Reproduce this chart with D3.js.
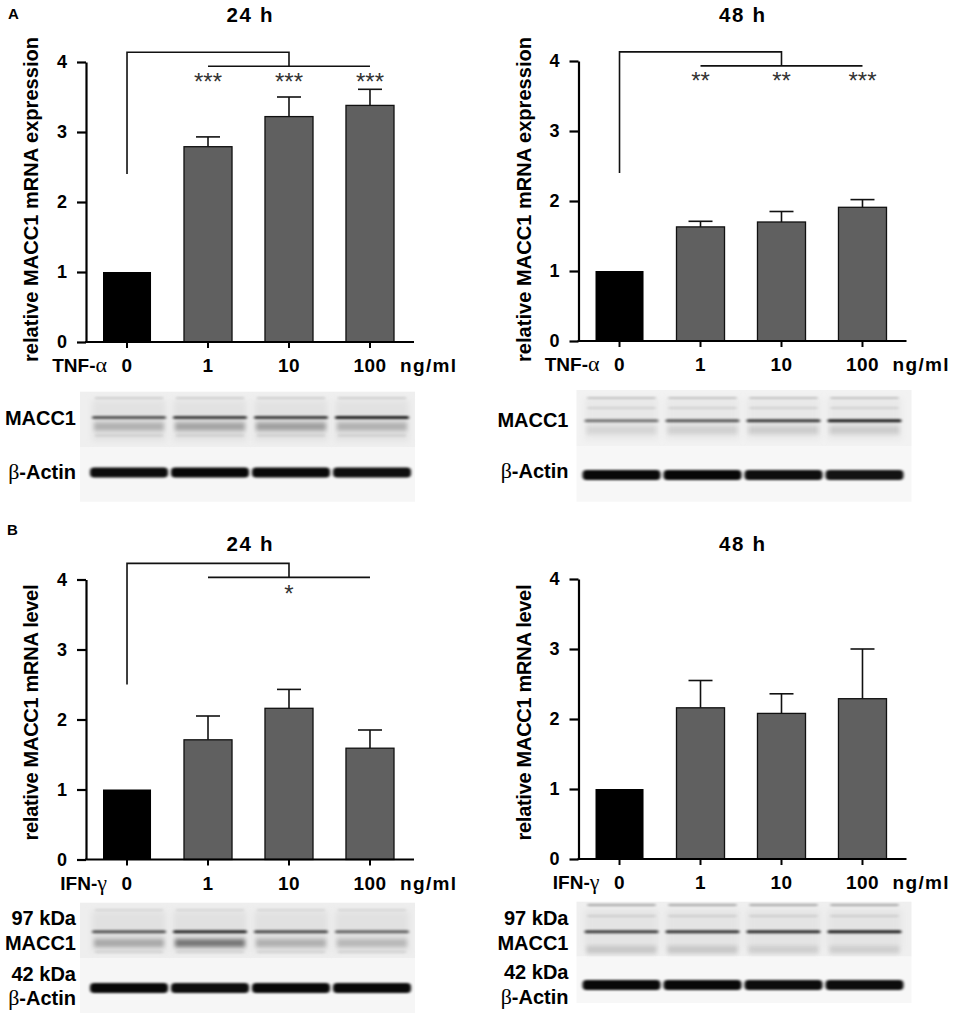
<!DOCTYPE html>
<html>
<head>
<meta charset="utf-8">
<script src="https://cdn.jsdelivr.net/npm/d3@7"></script>
<style>
  body { margin: 0; background: #fff; }
  text { font-family: "Liberation Sans", Arial, sans-serif; }
</style>
</head>
<body>
<div id="fig"></div>
<script>
// doses (ng/ml) and y ticks
var doses = ["0", "1", "10", "100"];
var yTicks = [0, 1, 2, 3, 4];

// relative MACC1 mRNA, mean and error
var tnf24Mean = [1.00, 2.79, 3.22, 3.38];
var tnf24Err  = [0, 0.14, 0.28, 0.23];
var tnf48Mean = [1.00, 1.63, 1.70, 1.91];
var tnf48Err  = [0, 0.08, 0.15, 0.11];
var ifn24Mean = [1.00, 1.71, 2.16, 1.59];
var ifn24Err  = [0, 0.34, 0.27, 0.26];
var ifn48Mean = [1.00, 2.16, 2.08, 2.29];
var ifn48Err  = [0, 0.39, 0.28, 0.71];

// significance marks for doses 1, 10, 100
var tnf24Stars = ["***", "***", "***"];
var tnf48Stars = ["**", "**", "***"];
var ifn24Stars = ["", "*", ""];
var ifn48Stars = ["", "", ""];

// band darkness per lane (0..1), estimated from the blots
var tnf24Macc = [0.62, 0.72, 0.72, 0.85];
var tnf24Low  = [0.22, 0.28, 0.30, 0.22];
var tnf24Actin = [0.95, 0.97, 0.96, 0.94];
var tnf48Macc = [0.50, 0.62, 0.75, 0.88];
var tnf48Low  = [0.08, 0.10, 0.12, 0.12];
var tnf48Actin = [0.96, 0.97, 0.94, 0.92];
var ifn24Macc = [0.62, 0.82, 0.66, 0.55];
var ifn24Low  = [0.25, 0.48, 0.22, 0.18];
var ifn24Actin = [0.96, 0.94, 0.96, 0.96];
var ifn48Macc = [0.72, 0.76, 0.80, 0.86];
var ifn48Low  = [0.14, 0.14, 0.11, 0.11];
var ifn48Actin = [0.96, 0.96, 0.95, 0.95];

var W = 957, H = 1018;

var svg = d3.select("#fig").append("svg")
  .attr("width", W)
  .attr("height", H);

var defs = svg.append("defs");
defs.append("filter").attr("id", "blur")
  .attr("x", "-20%").attr("y", "-400%").attr("width", "140%").attr("height", "900%")
  .append("feGaussianBlur").attr("stdDeviation", "1.4 1.1");
defs.append("filter").attr("id", "smear")
  .attr("x", "-20%").attr("y", "-200%").attr("width", "140%").attr("height", "500%")
  .append("feGaussianBlur").attr("stdDeviation", "2 2.2");
defs.append("filter").attr("id", "soft")
  .attr("x", "-20%").attr("y", "-50%").attr("width", "140%").attr("height", "200%")
  .append("feGaussianBlur").attr("stdDeviation", "3");

var panels = [
  {ox: 0, y0: 342, title: "24 h", titleY: 21.5, ylab: "relative MACC1 mRNA expression", ylabY: 199.5, ylabLen: 325,
   agent: "TNF-", greek: "α", mean: tnf24Mean, err: tnf24Err, stars: tnf24Stars, starLv: 3.8,
   br: {stem: 2.4, top: 4.14, drop: 3.94}},
  {ox: 492.5, y0: 341, title: "48 h", titleY: 21.5, ylab: "relative MACC1 mRNA expression", ylabY: 199.5, ylabLen: 325,
   agent: "TNF-", greek: "α", mean: tnf48Mean, err: tnf48Err, stars: tnf48Stars, starLv: 3.8,
   br: {stem: 2.4, top: 4.13, drop: 3.93}},
  {ox: 0, y0: 859.5, title: "24 h", titleY: 551, ylab: "relative MACC1 mRNA level", ylabY: 712.5, ylabLen: 256,
   agent: "IFN-", greek: "γ", mean: ifn24Mean, err: ifn24Err, stars: ifn24Stars, starLv: 3.87,
   br: {stem: 2.5, top: 4.23, drop: 4.03}},
  {ox: 492.5, y0: 859, title: "48 h", titleY: 551, ylab: "relative MACC1 mRNA level", ylabY: 712.5, ylabLen: 256,
   agent: "IFN-", greek: "γ", mean: ifn48Mean, err: ifn48Err, stars: ifn48Stars, starLv: 3.87,
   br: null}
];

panels.forEach(function(p) {
  var g = svg.append("g");
  var ox = p.ox;

  var x = d3.scaleBand().domain(doses)
    .range([ox + 103, ox + 394]).paddingInner(0.407).paddingOuter(0);
  var y = d3.scaleLinear().domain([0, 4]).range([p.y0, p.y0 - 280]);
  var cx = function(d) { return x(d) + x.bandwidth() / 2; };

  // title
  g.append("text")
    .attr("x", ox + 249.5).attr("y", p.titleY)
    .attr("text-anchor", "middle")
    .attr("textLength", 46).attr("lengthAdjust", "spacing")
    .style("font-size", "20.5px").style("font-weight", "bold")
    .text(p.title);

  // y label
  g.append("text")
    .attr("transform", "translate(" + (ox + 38) + "," + p.ylabY + ") rotate(-90)")
    .attr("text-anchor", "middle")
    .attr("textLength", p.ylabLen).attr("lengthAdjust", "spacing")
    .style("font-size", "20px").style("font-weight", "bold")
    .text(p.ylab);

  // bracket
  if (p.br) {
    g.append("path")
      .attr("d", "M" + cx("0") + "," + y(p.br.stem) + "V" + y(p.br.top) +
                 "H" + cx("10") + "V" + y(p.br.drop))
      .attr("fill", "none").attr("stroke", "#111").attr("stroke-width", 1.6);
    g.append("line")
      .attr("x1", cx("1")).attr("x2", cx("100"))
      .attr("y1", y(p.br.drop)).attr("y2", y(p.br.drop))
      .attr("stroke", "#111").attr("stroke-width", 1.6);
  }

  // stars
  g.selectAll(".star").data(doses.slice(1)).enter().append("text")
    .attr("x", function(d) { return cx(d); })
    .attr("y", y(p.starLv) + 13.5)
    .attr("text-anchor", "middle")
    .style("font-size", "24px").style("fill", "#333")
    .text(function(d, i) { return p.stars[i]; });

  // error bars
  var eb = g.selectAll(".err").data(doses).enter().append("g")
    .filter(function(d, i) { return p.err[i] > 0; });
  eb.append("line")
    .attr("x1", function(d) { return cx(d); }).attr("x2", function(d) { return cx(d); })
    .attr("y1", function(d) { var i = doses.indexOf(d); return y(p.mean[i]); })
    .attr("y2", function(d) { var i = doses.indexOf(d); return y(p.mean[i] + p.err[i]); })
    .attr("stroke", "#111").attr("stroke-width", 1.6);
  eb.append("line")
    .attr("x1", function(d) { return cx(d) - 12; }).attr("x2", function(d) { return cx(d) + 12; })
    .attr("y1", function(d) { var i = doses.indexOf(d); return y(p.mean[i] + p.err[i]); })
    .attr("y2", function(d) { var i = doses.indexOf(d); return y(p.mean[i] + p.err[i]); })
    .attr("stroke", "#111").attr("stroke-width", 1.6);

  // bars
  g.selectAll(".bar").data(doses).enter().append("rect")
    .attr("x", function(d) { return x(d); })
    .attr("width", x.bandwidth())
    .attr("y", function(d, i) { return y(p.mean[i]); })
    .attr("height", function(d, i) { return p.y0 - y(p.mean[i]); })
    .attr("fill", function(d, i) { return i == 0 ? "#000" : "#606060"; })
    .attr("stroke", function(d, i) { return i == 0 ? "none" : "#111"; })
    .attr("stroke-width", 1.3);

  // y axis
  var ya = g.append("g")
    .attr("transform", "translate(" + (ox + 86) + ",0)")
    .call(d3.axisLeft(y).tickValues(yTicks).tickFormat(d3.format("d"))
      .tickSize(9).tickPadding(10).tickSizeOuter(0));
  ya.select(".domain").attr("stroke-width", 2.2);
  ya.selectAll(".tick line").attr("stroke-width", 2.2);
  ya.selectAll(".tick text")
    .style("font-size", "18px").style("font-weight", "bold")
    .style("font-family", "Liberation Sans, Arial, sans-serif");

  // x axis
  g.append("line")
    .attr("x1", ox + 85).attr("x2", ox + 414)
    .attr("y1", p.y0).attr("y2", p.y0)
    .attr("stroke", "#000").attr("stroke-width", 2.2);
  var xa = g.append("g")
    .attr("transform", "translate(0," + p.y0 + ")")
    .call(d3.axisBottom(x).tickSize(6).tickSizeOuter(0));
  xa.select(".domain").remove();
  xa.selectAll(".tick line").attr("stroke-width", 2);
  xa.selectAll(".tick text")
    .attr("y", 30).attr("dy", 0)
    .style("font-size", "19px").style("font-weight", "bold")
    .style("letter-spacing", "0.5px")
    .style("font-family", "Liberation Sans, Arial, sans-serif");

  var ag = g.append("text")
    .attr("x", ox + 107).attr("y", p.y0 + 30)
    .attr("text-anchor", "end")
    .style("font-size", "19px").style("font-weight", "bold");
  ag.append("tspan").text(p.agent);
  ag.append("tspan")
    .style("font-family", "Liberation Serif, serif").style("font-weight", "normal")
    .style("font-size", "22px")
    .text(p.greek);

  g.append("text")
    .attr("x", ox + 400).attr("y", p.y0 + 30)
    .attr("textLength", 56).attr("lengthAdjust", "spacing")
    .style("font-size", "19px").style("font-weight", "bold")
    .text("ng/ml");

  p.x = x;
});

// western blots
var blots = [
  {ox: 0, x0: 80, x1: 415, top: 391.7, split: 447, bottom: 501.7,
   macc: tnf24Macc, low: tnf24Low, actin: tnf24Actin,
   mainY: 417.5, lowY: 426.5, faint: [[398, 0.12], [435.5, 0.1]], actinY: 472.5,
   bgM: "#efefef", laneM: "#e2e2e2", bgA: "#f6f6f6",
   labels: [["MACC1", 425], ["β-Actin", 479]]},
  {ox: 492.5, x0: 84, x1: 419, top: 390, split: 446, bottom: 501.7,
   macc: tnf48Macc, low: tnf48Low, actin: tnf48Actin,
   mainY: 420.7, lowY: 430, faint: [[398, 0.18], [408, 0.1]], actinY: 475,
   bgM: "#f2f2f2", laneM: "#e8e8e8", bgA: "#f7f7f7",
   labels: [["MACC1", 427], ["β-Actin", 478]]},
  {ox: 0, x0: 80, x1: 415, top: 902.7, split: 958, bottom: 1013,
   macc: ifn24Macc, low: ifn24Low, actin: ifn24Actin,
   mainY: 931.7, lowY: 943, faint: [[910, 0.08], [952, 0.1]], actinY: 988,
   bgM: "#eeeeee", laneM: "#e1e1e1", bgA: "#f6f6f6",
   labels: [["97 kDa", 925], ["MACC1", 950], ["42 kDa", 981], ["β-Actin", 1005]]},
  {ox: 492.5, x0: 84, x1: 419, top: 901.7, split: 956.7, bottom: 1003,
   macc: ifn48Macc, low: ifn48Low, actin: ifn48Actin,
   mainY: 931.7, lowY: 950, faint: [[905, 0.3], [916, 0.1]], actinY: 985,
   bgM: "#efefef", laneM: "#e4e4e4", bgA: "#f7f7f7",
   labels: [["97 kDa", 925], ["MACC1", 950], ["42 kDa", 979], ["β-Actin", 1004]]}
];

blots.forEach(function(b, k) {
  var x = panels[k].x;
  var g = svg.append("g");
  var x0 = b.ox + b.x0, x1 = b.ox + b.x1;
  var laneW = 74;
  var lc = function(d) { return x(d) + x.bandwidth() / 2 + 2; };

  g.append("rect").attr("x", x0).attr("y", b.top)
    .attr("width", x1 - x0).attr("height", b.split - b.top).attr("fill", b.bgM);
  g.append("rect").attr("x", x0).attr("y", b.split)
    .attr("width", x1 - x0).attr("height", b.bottom - b.split).attr("fill", b.bgA);

  // lane smear
  g.selectAll(".lane").data(doses).enter().append("rect")
    .attr("x", function(d) { return lc(d) - laneW / 2; })
    .attr("y", b.top + 8).attr("width", laneW).attr("height", b.split - b.top - 14)
    .attr("fill", b.laneM).attr("filter", "url(#soft)");

  // faint bands
  b.faint.forEach(function(f) {
    g.selectAll(null).data(doses).enter().append("rect")
      .attr("x", function(d) { return lc(d) - laneW / 2 + 3; })
      .attr("y", f[0] - 1).attr("width", laneW - 6).attr("height", 2)
      .attr("fill", "#000").attr("opacity", f[1]).attr("filter", "url(#blur)");
  });

  // lower MACC1 band
  g.selectAll(null).data(doses).enter().append("rect")
    .attr("x", function(d) { return lc(d) - laneW / 2 + 2; })
    .attr("y", b.lowY - 4).attr("width", laneW - 4).attr("height", 8)
    .attr("fill", "#000").attr("opacity", function(d, i) { return b.low[i]; })
    .attr("filter", "url(#smear)");

  // main MACC1 band
  g.selectAll(null).data(doses).enter().append("rect")
    .attr("x", function(d) { return lc(d) - laneW / 2; })
    .attr("y", b.mainY - 1.5).attr("width", laneW).attr("height", 3)
    .attr("rx", 1.5)
    .attr("fill", "#000").attr("opacity", function(d, i) { return b.macc[i]; })
    .attr("filter", "url(#blur)");

  // actin band
  g.selectAll(null).data(doses).enter().append("rect")
    .attr("x", function(d) { return lc(d) - laneW / 2 - 2; })
    .attr("y", b.actinY - 5).attr("width", laneW + 4).attr("height", 10)
    .attr("rx", 4)
    .attr("fill", "#000").attr("opacity", function(d, i) { return b.actin[i]; })
    .attr("filter", "url(#blur)");

  // labels
  b.labels.forEach(function(l) {
    var t = g.append("text")
      .attr("x", b.ox + 76).attr("y", l[1])
      .attr("text-anchor", "end")
      .style("font-size", "20px").style("font-weight", "bold");
    if (l[0].charAt(0) == "β") {
      t.append("tspan").style("font-family", "Liberation Serif, serif")
        .style("font-weight", "normal").style("font-size", "22px").text("β");
      t.append("tspan").text(l[0].slice(1));
    } else {
      t.text(l[0]);
    }
  });
});

// panel letters
svg.append("text").attr("x", 8).attr("y", 19)
  .style("font-size", "15px").style("font-weight", "bold").text("A");
svg.append("text").attr("x", 7).attr("y", 535)
  .style("font-size", "15px").style("font-weight", "bold").text("B");
</script>
</body>
</html>
